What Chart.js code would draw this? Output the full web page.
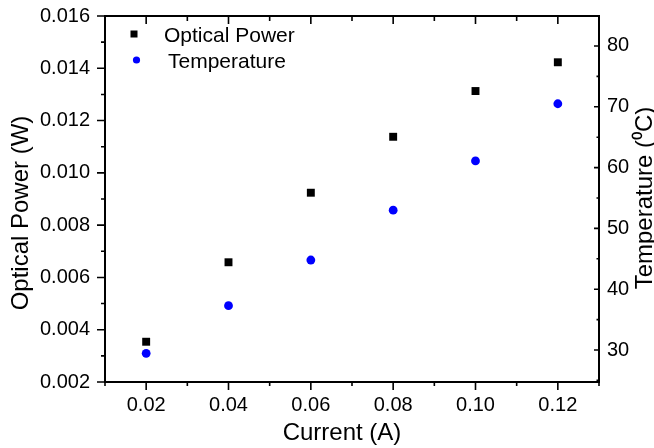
<!DOCTYPE html>
<html>
<head>
<meta charset="utf-8">
<script src="https://cdn.jsdelivr.net/npm/chart.js@4.4.0/dist/chart.umd.min.js"></script>
<style>
  html, body { margin: 0; padding: 0; background: #fff; }
  #wrap { width: 654px; height: 448px; position: relative; }
</style>
</head>
<body>
<div id="wrap"><canvas id="chart"></canvas></div>
<script>
// Data
const current = [0.02, 0.04, 0.06, 0.08, 0.10, 0.12];
const opticalPower = [0.00354, 0.00658, 0.00924, 0.01138, 0.01313, 0.01423];
const temperature = [29.45, 37.3, 44.8, 53.0, 61.1, 70.5];

// Tick labels
const xTicks = [0.02, 0.04, 0.06, 0.08, 0.10, 0.12];
const powerTicks = [0.002, 0.004, 0.006, 0.008, 0.010, 0.012, 0.014, 0.016];
const tempTicks = [30, 40, 50, 60, 70, 80];

const FONT = '"Liberation Sans", Arial, sans-serif';

// minor ticks half way between the major ones
function minorTicks(major, min, max) {
    const step = major[1] - major[0];
    const out = [];
    for (let i = -1; i < major.length; i++) {
        const v = major[0] + (i + 0.5) * step;
        if (v >= min - 1e-9 && v <= max + 1e-9) out.push(v);
    }
    return out;
}

const framePlugin = {
    id: 'frame',
    afterDraw(chart) {
        const ctx = chart.ctx;
        const a = chart.chartArea;
        const sx = chart.scales.x, sy = chart.scales.y, sy2 = chart.scales.y2;
        ctx.save();
        ctx.strokeStyle = '#000';
        ctx.lineCap = 'butt';

        // ticks
        ctx.lineWidth = 1.6;
        ctx.beginPath();
        xTicks.forEach(v => {
            const px = sx.getPixelForValue(v);
            ctx.moveTo(px, a.bottom); ctx.lineTo(px, a.bottom + 8);
            ctx.moveTo(px, a.top); ctx.lineTo(px, a.top + 8);
        });
        minorTicks(xTicks, sx.min, sx.max).forEach(v => {
            const px = sx.getPixelForValue(v);
            ctx.moveTo(px, a.bottom); ctx.lineTo(px, a.bottom + 4);
            ctx.moveTo(px, a.top); ctx.lineTo(px, a.top + 5);
        });
        powerTicks.forEach(v => {
            const py = sy.getPixelForValue(v);
            ctx.moveTo(a.left, py); ctx.lineTo(a.left - 8, py);
        });
        minorTicks(powerTicks, sy.min, sy.max).forEach(v => {
            const py = sy.getPixelForValue(v);
            ctx.moveTo(a.left, py); ctx.lineTo(a.left - 4, py);
        });
        tempTicks.forEach(v => {
            const py = sy2.getPixelForValue(v);
            ctx.moveTo(a.right, py); ctx.lineTo(a.right - 5, py);
        });
        minorTicks(tempTicks, sy2.min, sy2.max).forEach(v => {
            const py = sy2.getPixelForValue(v);
            ctx.moveTo(a.right, py); ctx.lineTo(a.right - 2.5, py);
        });
        ctx.stroke();

        // frame
        ctx.lineWidth = 2;
        ctx.strokeRect(a.left, a.top, a.right - a.left, a.bottom - a.top);

        // axis titles
        ctx.fillStyle = '#000';
        ctx.textAlign = 'center';
        ctx.textBaseline = 'alphabetic';
        ctx.font = '24px ' + FONT;
        ctx.fillText('Current (A)', 342, 440);

        ctx.save();
        ctx.translate(28, 213);
        ctx.rotate(-Math.PI / 2);
        ctx.font = '24px ' + FONT;
        ctx.fillText('Optical Power (W)', 0, 0);
        ctx.restore();

        ctx.save();
        ctx.translate(652, 198);
        ctx.rotate(-Math.PI / 2);
        ctx.font = '24px ' + FONT;
        ctx.fillText('Temperature (\u2070C)', 0, 0);
        ctx.restore();

        // legend
        ctx.textAlign = 'left';
        ctx.font = '21px ' + FONT;
        chart.data.datasets.forEach((ds, i) => {
            const cy = [34, 60][i];
            ctx.fillStyle = ds.backgroundColor;
            if (ds.pointStyle === 'rect') {
                ctx.fillRect(134 - 3.5, cy - 3.5, 7, 7);
            } else {
                ctx.beginPath();
                ctx.arc(136.5, cy, 3.6, 0, Math.PI * 2);
                ctx.fill();
            }
            ctx.fillStyle = '#000';
            ctx.fillText(ds.label, [164, 168][i], cy + 7.5);
        });
        ctx.restore();
    }
};

function noPadY(s, w) {
    s.width = w;
    s.paddingTop = 0;
    s.paddingBottom = 0;
}

new Chart(document.getElementById('chart'), {
    type: 'scatter',
    data: {
        datasets: [{
            label: 'Optical Power',
            data: current.map((c, i) => ({ x: c, y: opticalPower[i] })),
            yAxisID: 'y',
            pointStyle: 'rect',
            pointRadius: 5.6,
            borderWidth: 0,
            backgroundColor: '#000',
            borderColor: '#000'
        }, {
            label: 'Temperature',
            data: current.map((c, i) => ({ x: c, y: temperature[i] })),
            yAxisID: 'y2',
            pointStyle: 'circle',
            pointRadius: 4.4,
            borderWidth: 0,
            backgroundColor: '#0000ff',
            borderColor: '#0000ff'
        }]
    },
    options: {
        responsive: true,
        maintainAspectRatio: false,
        animation: false,
        layout: { padding: { top: 16, left: 0, right: 0, bottom: 0 } },
        plugins: {
            legend: { display: false },
            tooltip: { enabled: false }
        },
        scales: {
            x: {
                type: 'linear',
                min: 0.01,
                max: 0.13,
                grid: { display: false, drawTicks: false },
                border: { display: false },
                afterBuildTicks: s => { s.ticks = xTicks.map(v => ({ value: v })); },
                afterFit: s => { s.height = 66; s.paddingLeft = 0; s.paddingRight = 0; },
                ticks: {
                    padding: 11,
                    color: '#000',
                    maxRotation: 0,
                    font: { family: FONT, size: 20 },
                    callback: v => v.toFixed(2)
                }
            },
            y: {
                position: 'left',
                min: 0.002,
                max: 0.016,
                grid: { display: false, drawTicks: false },
                border: { display: false },
                afterBuildTicks: s => { s.ticks = powerTicks.map(v => ({ value: v })); },
                afterFit: s => noPadY(s, 105),
                ticks: {
                    padding: 15,
                    color: '#000',
                    font: { family: FONT, size: 20 },
                    callback: v => v.toFixed(3)
                }
            },
            y2: {
                position: 'right',
                min: 24.74,
                max: 84.93,
                grid: { display: false, drawTicks: false },
                border: { display: false },
                afterBuildTicks: s => { s.ticks = tempTicks.map(v => ({ value: v })); },
                afterFit: s => noPadY(s, 55),
                ticks: {
                    padding: 8,
                    color: '#000',
                    font: { family: FONT, size: 20 },
                    callback: v => String(v)
                }
            }
        }
    },
    plugins: [framePlugin]
});
</script>
</body>
</html>
